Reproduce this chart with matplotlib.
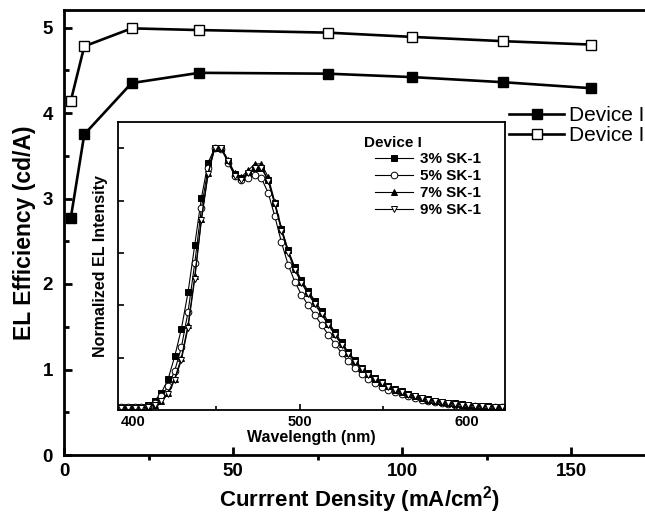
import matplotlib
matplotlib.use("Agg")
import matplotlib.pyplot as plt
from matplotlib.ticker import MultipleLocator, NullFormatter

plt.rcParams['font.family'] = ['Liberation Sans', 'DejaVu Sans']

### main curve data ###
current = [2, 6, 20, 40, 78, 103, 130, 156]
eff_filled = [2.77, 3.75, 4.35, 4.47, 4.46, 4.42, 4.36, 4.29]
eff_open = [4.14, 4.78, 4.99, 4.97, 4.94, 4.89, 4.84, 4.80]
main_labels = ["Device I", "Device I"]

### inset EL spectra ###
wl = [393, 397, 401, 405, 409, 413, 417, 421, 425, 429, 433, 437, 441, 445,
      449, 453, 457, 461, 465, 469, 473, 477, 481, 485, 489, 493, 497, 501,
      505, 509, 513, 517, 521, 525, 529, 533, 537, 541, 545, 549, 553, 557,
      561, 565, 569, 573, 577, 581, 585, 589, 593, 597, 601, 605, 609, 613,
      617, 621]
sk3 = [.010, .010, .010, .012, .020, .035, .066, .117, .205, .310, .450, .630,
       .810, .945, 1.00, 1.00, .950, .900, .885, .900, .926, .926, .880, .790,
       .690, .610, .545, .495, .455, .418, .378, .338, .298, .258, .222, .190,
       .162, .140, .122, .106, .093, .081, .071, .062, .054, .047, .041, .036,
       .032, .028, .025, .022, .019, .017, .015, .014, .013, .012]
sk5 = [.010, .010, .010, .011, .016, .028, .052, .090, .150, .240, .375, .560,
       .770, .925, 1.00, .995, .945, .895, .878, .885, .897, .885, .830, .740,
       .640, .555, .490, .440, .400, .363, .325, .288, .252, .218, .186, .160,
       .137, .118, .102, .089, .078, .068, .060, .052, .046, .040, .035, .031,
       .027, .024, .021, .019, .017, .015, .013, .012, .011, .010]
sk7 = [.008, .008, .008, .009, .012, .020, .036, .066, .120, .200, .325, .510,
       .730, .905, 1.00, 1.00, .955, .905, .890, .915, .940, .940, .890, .795,
       .695, .610, .540, .490, .448, .410, .370, .330, .290, .252, .217, .186,
       .158, .136, .118, .103, .090, .078, .069, .060, .052, .046, .040, .035,
       .031, .027, .024, .021, .019, .017, .015, .013, .012, .011]
sk9 = [.008, .008, .008, .009, .011, .018, .033, .060, .115, .190, .315, .500,
       .725, .900, 1.00, 1.00, .950, .895, .880, .905, .925, .925, .875, .785,
       .685, .600, .535, .485, .442, .405, .365, .326, .287, .250, .215, .184,
       .157, .135, .117, .102, .089, .078, .068, .059, .052, .045, .039, .034,
       .030, .026, .023, .020, .018, .016, .014, .013, .012, .011]
inset_labels = ["3% SK-1", "5% SK-1", "7% SK-1", "9% SK-1"]

W, H = 645, 514
fig = plt.figure(figsize=(W / 100, H / 100), dpi=100)

# main axes runs past the right edge of the picture (cropped figure)
ax = fig.add_axes([64 / W, 59 / H, 591.5 / W, 444.6 / H])
ax.plot(current, eff_filled, '-s', color='black', lw=1.9, ms=7.5,
        mfc='black', mec='black', label=main_labels[0])
ax.plot(current, eff_open, '-s', color='black', lw=1.9, ms=7.5,
        mfc='white', mec='black', mew=1.0, label=main_labels[1])
ax.set_xlim(0, 175)
ax.set_ylim(0, 5.2)
ax.xaxis.set_major_locator(MultipleLocator(50))
ax.xaxis.set_minor_locator(MultipleLocator(25))
ax.yaxis.set_major_locator(MultipleLocator(1))
ax.yaxis.set_minor_locator(MultipleLocator(0.5))
ax.tick_params(axis='both', which='major', direction='in', length=6, width=2,
               labelsize=13.5, pad=8)
ax.tick_params(axis='y', which='minor', direction='in', length=3.5, width=2)
ax.tick_params(axis='x', which='minor', direction='out', length=3.5, width=2)
ax.tick_params(axis='x', which='major', pad=6)
for lab in ax.get_xticklabels() + ax.get_yticklabels():
    lab.set_fontweight('bold')
for sp in ax.spines.values():
    sp.set_linewidth(2)
ax.set_xlabel("Currrent Density (mA/cm$^\\mathregular{2}$)", fontsize=16,
              fontweight='bold', labelpad=3)
ax.set_ylabel("EL Efficiency (cd/A)", fontsize=16.5, fontweight='bold',
              labelpad=5)
ax.legend(loc='upper left', bbox_to_anchor=(509 / W, 1 - 106 / H),
          bbox_transform=fig.transFigure, frameon=False, borderpad=0,
          borderaxespad=0, handlelength=2.65, handletextpad=0.25,
          labelspacing=0.05, fontsize=15)

# inset
ins = fig.add_axes([118 / W, 104 / H, 387 / W, 288 / H])
ins.set_facecolor('white')
styles = [('s', 'black'), ('o', 'white'), ('^', 'black'), ('v', 'white')]
for yy, lab, (mk, fc) in zip([sk3, sk5, sk7, sk9], inset_labels, styles):
    ins.plot(wl, yy, '-', marker=mk, color='black', lw=0.8, ms=4.8,
             mfc=fc, mec='black', mew=0.7, label=lab)
ins.set_xlim(391, 623)
ins.set_ylim(0, 1.1)
ins.xaxis.set_major_locator(MultipleLocator(100))
ins.xaxis.set_minor_locator(MultipleLocator(50))
ins.yaxis.set_major_locator(MultipleLocator(0.2))
ins.yaxis.set_major_formatter(NullFormatter())
ins.tick_params(axis='both', which='both', direction='in', width=1.2,
                labelsize=10.5)
ins.tick_params(axis='both', which='major', length=4)
ins.tick_params(axis='x', which='minor', length=3)
for lab in ins.get_xticklabels():
    lab.set_fontweight('bold')
for sp in ins.spines.values():
    sp.set_linewidth(1.3)
ins.set_xlabel("Wavelength (nm)", fontsize=11.5, fontweight='bold',
               labelpad=1)
ins.set_ylabel("Normalized EL Intensity", fontsize=11.5, fontweight='bold',
               labelpad=4)
ins.legend(loc='upper left', bbox_to_anchor=(375 / W, 1 - 152 / H),
           bbox_transform=fig.transFigure, frameon=False, borderpad=0,
           borderaxespad=0, handlelength=2.5, handletextpad=0.45,
           labelspacing=0.2, prop={'weight': 'bold', 'size': 11})
fig.text(364 / W, 1 - 143 / H, "Device I", fontsize=11, fontweight='bold',
         va='center', ha='left')

fig.savefig("out.png", dpi=100)
